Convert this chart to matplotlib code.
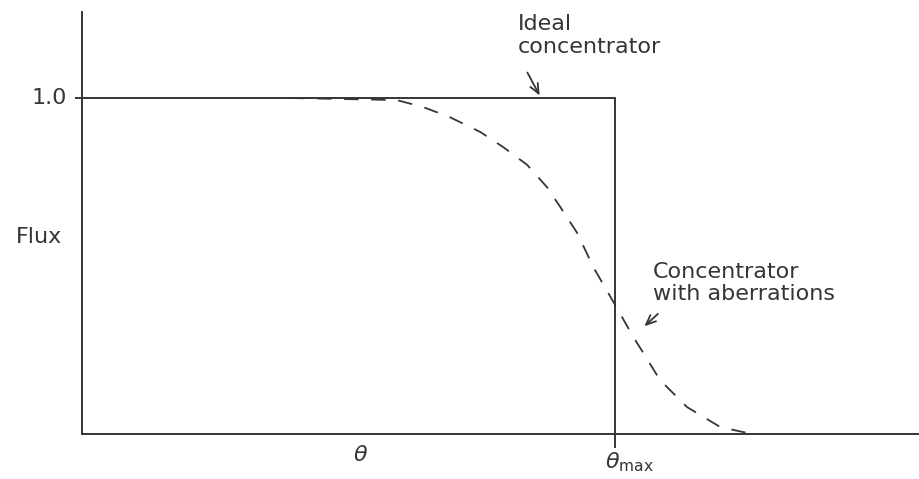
import matplotlib
matplotlib.use("Agg")
import matplotlib.pyplot as plt

# ideal concentrator: step at theta_max
ideal_x = [0.0, 1.0, 1.0]
ideal_y = [1.0, 1.0, 0.0]

# concentrator with aberrations
aber_x = [0.39, 0.59, 0.64, 0.69, 0.747, 0.79, 0.835, 0.872, 0.897, 0.929,
          0.959, 0.987, 1.013, 1.034, 1.053, 1.084, 1.135, 1.197, 1.248, 1.272]
aber_y = [1.0, 0.994, 0.973, 0.943, 0.899, 0.854, 0.801, 0.735, 0.676, 0.598,
          0.497, 0.42, 0.348, 0.289, 0.241, 0.161, 0.08, 0.021, 0.003, 0.0]

ink = "#353535"
W, H = 919, 479

fig = plt.figure(figsize=(W / 100, H / 100), dpi=100)
ax = fig.add_axes([82 / W, 45 / H, (W - 82) / W, (434 - 12) / H])
ax.set_xlim(0, 1.570)
ax.set_ylim(0, 1.256)

for s in ["top", "right"]:
    ax.spines[s].set_visible(False)
for s in ["left", "bottom"]:
    ax.spines[s].set_color(ink)
    ax.spines[s].set_linewidth(1.4)

ax.plot(ideal_x, ideal_y, color=ink, lw=1.4, solid_joinstyle="miter")
ax.plot(aber_x, aber_y, color=ink, lw=1.3, linestyle=(0, (8, 7)))

ax.set_xticks([1.0])
ax.set_xticklabels([""])
ax.tick_params(axis="x", length=10, width=1.4, color=ink)
ax.set_yticks([1.0])
ax.set_yticklabels([""])
ax.tick_params(axis="y", length=5, width=1.4, color=ink)

fs = 16
kw = dict(color=ink, fontsize=fs, clip_on=False)
ax.text(-0.028, 1.0, "1.0", ha="right", va="center", **kw)
ax.text(-0.037, 0.586, "Flux", ha="right", va="center", **kw)
ax.text(0.522, -0.033, r"$\theta$", ha="center", va="top", **kw)
ax.text(0.981, -0.048, r"$\theta_{\rm max}$", ha="left", va="top", **kw)

arrow = dict(arrowstyle="->,head_length=0.7,head_width=0.3", color=ink, lw=1.3)

ax.text(0.818, 1.25, "Ideal\nconcentrator", ha="left", va="top",
        linespacing=1.2, **kw)
ax.annotate("", xy=(0.861, 1.0), xytext=(0.833, 1.083), arrowprops=arrow)

ax.text(1.071, 0.512, "Concentrator\nwith aberrations", ha="left", va="top",
        linespacing=1.15, **kw)
ax.annotate("", xy=(1.051, 0.315), xytext=(1.084, 0.363), arrowprops=arrow)

fig.savefig("out.png", dpi=100)
